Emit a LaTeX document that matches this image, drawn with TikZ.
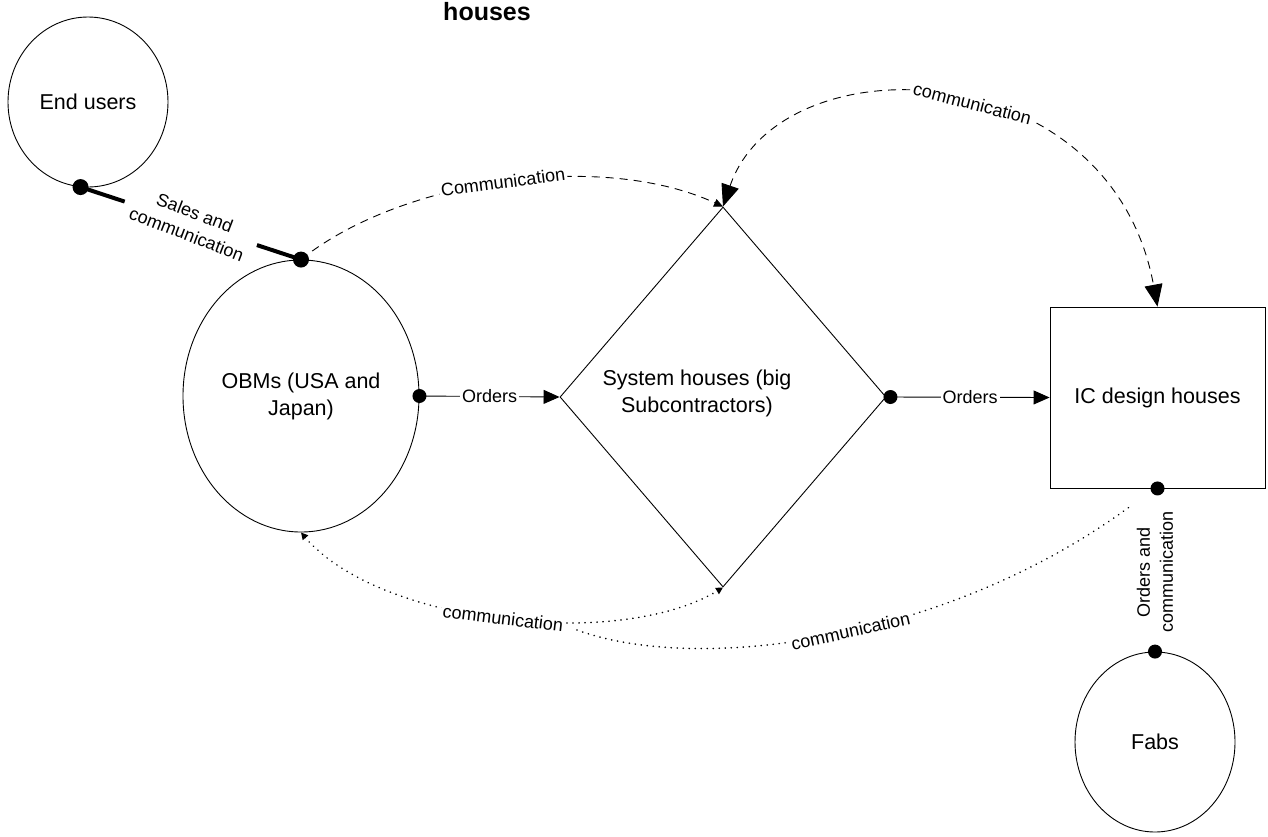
\documentclass[tikz,border=0pt]{standalone}
\usepackage{fontspec}
\setmainfont{Liberation Sans}
\usetikzlibrary{shapes.geometric,arrows.meta,calc}
\begin{document}
\begin{tikzpicture}[x=1pt,y=-1pt,
  thinline/.style={line width=0.9pt},
  mainfont/.style={font=\fontsize{21.5}{27}\selectfont},
  lbl/.style={font=\fontsize{18}{21}\selectfont, fill=white, inner sep=2pt},
  plainlbl/.style={font=\fontsize{18}{23}\selectfont, inner sep=1pt, align=center},
  oval/.style={ellipse, draw, thinline, inner sep=0pt, align=center, mainfont},
  dot/.style={circle, fill=black, minimum size=16pt, inner sep=0pt},
  dashline/.style={thinline, dash pattern=on 8pt off 6pt},
  dotline/.style={line width=1.8pt, dash pattern=on 0.01pt off 6pt, line cap=round},
  bigtip/.style={{Triangle[length=22pt,width=18pt]}-{Triangle[length=22pt,width=18pt]}},
  midtip/.style={-{Triangle[length=16pt,width=14pt]}},
  smalltip/.style={-{Triangle[length=9pt,width=8pt]}},
  smalltips/.style={{Triangle[length=7pt,width=7pt]}-{Triangle[length=7pt,width=7pt]}}
]
\useasboundingbox (0,0) rectangle (1268,836);

% title
\node[font=\bfseries\fontsize{25}{30}\selectfont, anchor=base] (title) at (487,20) {houses};

% shapes
\node[oval, minimum width=160pt, minimum height=170pt] (endusers) at (88,102) {End users};
\node[oval, minimum width=236pt, minimum height=272pt] (obm) at (301,396) {OBMs (USA and\\Japan)};
\node[diamond, draw, thinline, minimum width=326pt, minimum height=380pt, inner sep=0pt] (sys) at (723,397) {};
\node[mainfont, align=center] (systext) at (697,393) {System houses (big\\Subcontractors)};
\node[draw, thinline, minimum width=215pt, minimum height=181pt, inner sep=0pt, mainfont] (ic) at (1157.5,397.5) {IC design houses};
\node[oval, minimum width=160pt, minimum height=180pt] (fabs) at (1155,742) {Fabs};

% dots
\node[dot] (d1) at (endusers.265) {};
\node[dot] (d2) at (obm.north) {};
\node[dot, minimum size=14pt] (d3) at (obm.east) {};
\node[dot, minimum size=14pt] (d4) at ($(sys.east)+(4,0)$) {};
\node[dot, minimum size=14pt] (d5) at (ic.south) {};
\node[dot, minimum size=14pt] (d6) at (fabs.north) {};

% sales and communication
\draw[line width=4pt] (d1.center) -- ($(d1.center)!0.2!(d2.center)$);
\draw[line width=4pt] ($(d1.center)!0.8!(d2.center)$) -- (d2.center);
\node[plainlbl, rotate=-21] (saleslbl) at ($(d1.center)!0.5!(d2.center)$) {Sales and\\communication};

% orders
\draw[thinline, midtip] (d3.center) -- node[lbl]{Orders} (sys.west);
\draw[thinline, midtip] (d4.center) -- node[lbl]{Orders} (ic.west);

% orders and communication (IC - Fabs)
\node[plainlbl, rotate=90] (oclbl) at (1155,572) {Orders and\\communication};

% dashed communications
\draw[dashline, smalltip] (d2.center) .. controls (400,180) and (600,150) .. node[lbl, sloped, pos=0.5]{Communication} (sys.north);
\draw[dashline, bigtip] (sys.north) .. controls (780,40) and (1110,50) .. node[lbl, sloped, pos=0.55]{communication} (ic.north);

% dotted communications
\draw[dotline, smalltips] (obm.south) .. controls (380,625) and (620,650) .. node[lbl, sloped, pos=0.5]{communication} (sys.south);
\coordinate (c4s) at (577,630);
\coordinate (c4e) at (1132,505);
\draw[dotline] (c4s) .. controls (700,675) and (950,640) .. node[lbl, sloped, pos=0.53]{communication} (c4e);
\end{tikzpicture}
\end{document}
